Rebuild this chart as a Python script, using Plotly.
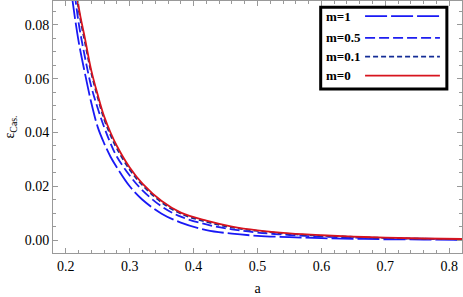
import plotly.graph_objects as go

a = [0.205, 0.21, 0.22, 0.23, 0.24, 0.25, 0.26, 0.27, 0.28, 0.30, 0.32, 0.35,
     0.38, 0.42, 0.46, 0.50, 0.55, 0.60, 0.65, 0.70, 0.76, 0.82]

e_m1 = [0.100, 0.090, 0.074, 0.062, 0.051, 0.042, 0.036, 0.031, 0.027, 0.020, 0.015, 0.0098,
        0.0065, 0.0037, 0.0024, 0.0016, 0.0011, 0.0007, 0.0005, 0.0003, 0.0002, 0.0001]
e_m05 = [0.112, 0.100, 0.081, 0.068, 0.057, 0.049, 0.042, 0.036, 0.031, 0.024, 0.0185, 0.0125,
         0.0087, 0.0058, 0.0040, 0.0028, 0.0019, 0.0013, 0.0009, 0.0007, 0.0005, 0.0003]
e_m01 = [0.118, 0.107, 0.086, 0.0735, 0.062, 0.053, 0.045, 0.039, 0.034, 0.0262, 0.0204, 0.0140,
         0.0098, 0.0068, 0.0047, 0.0034, 0.0023, 0.0016, 0.0012, 0.0008, 0.0005, 0.0003]
e_m0 = [0.120, 0.108, 0.087, 0.075, 0.063, 0.054, 0.046, 0.040, 0.035, 0.027, 0.021, 0.0145,
        0.0102, 0.0072, 0.0050, 0.0036, 0.0025, 0.0018, 0.0013, 0.0009, 0.0006, 0.0004]

names = ["m=1", "m=0.5", "m=0.1", "m=0"]
values = [e_m1, e_m05, e_m01, e_m0]
colors = ["rgb(25,25,245)", "rgb(30,30,240)", "rgb(20,45,150)", "rgb(215,20,30)"]
dashes = ["22px,4px", "10px,4px", "5px,3px", "solid"]

SERIF = "Liberation Serif"

fig = go.Figure()
for n, v, c, d in zip(names, values, colors, dashes):
    fig.add_trace(go.Scatter(x=a, y=v, mode="lines", name=n,
                             line=dict(color=c, width=1.8, dash=d, shape="spline", smoothing=1.0),
                             showlegend=False))

# manual legend (text left, line sample right) in paper coords
box = dict(x0=0.6545, x1=0.963, y0=0.651, y1=0.975)
rows_y = [0.940, 0.854, 0.779, 0.704]
shapes = [dict(type="rect", xref="paper", yref="paper", fillcolor="white",
               line=dict(color="black", width=3), layer="above", **box)]
annotations = []
for n, c, d, yy in zip(names, colors, dashes, rows_y):
    shapes.append(dict(type="line", xref="paper", yref="paper", x0=0.763, x1=0.946,
                       y0=yy, y1=yy, line=dict(color=c, width=1.8, dash=d), layer="above"))
    annotations.append(dict(xref="paper", yref="paper", x=0.662, y=yy, text="<b>%s</b>" % n,
                            showarrow=False, xanchor="left", yanchor="middle",
                            font=dict(family=SERIF, size=13, color="black")))

axis_common = dict(showline=True, linecolor="#999999", linewidth=1, mirror="allticks",
                   ticks="inside", ticklen=5, tickcolor="#999999", showgrid=False,
                   zeroline=False,
                   tickfont=dict(family=SERIF, size=14, color="black"))

fig.update_layout(
    width=463, height=297,
    margin=dict(l=53, r=1, t=1, b=44),
    paper_bgcolor="white", plot_bgcolor="white",
    font=dict(family=SERIF),
    shapes=shapes, annotations=annotations,
    xaxis=dict(range=[0.18, 0.82], tickvals=[0.2, 0.3, 0.4, 0.5, 0.6, 0.7, 0.8],
               ticktext=["0.2", "0.3", "0.4", "0.5", "0.6", "0.7", "0.8"],
               minor=dict(dtick=0.02, tick0=0.2, ticks="inside", ticklen=3, tickcolor="#999999"),
               title=dict(text="a", font=dict(family=SERIF, size=14, color="black"),
                          standoff=10),
               **axis_common),
    yaxis=dict(range=[-0.0048, 0.0889], tickvals=[0.0, 0.02, 0.04, 0.06, 0.08],
               ticktext=["0.00", "0.02", "0.04", "0.06", "0.08"],
               minor=dict(dtick=0.005, tick0=0.0, ticks="inside", ticklen=3, tickcolor="#999999"),
               title=dict(text="ε<sub>Cas.</sub>", font=dict(family=SERIF, size=14, color="black"),
                          standoff=6),
               **axis_common),
)

fig.write_html("out.html", config={"displayModeBar": False},
               post_script="document.body.style.margin='0';document.body.style.padding='0';")
